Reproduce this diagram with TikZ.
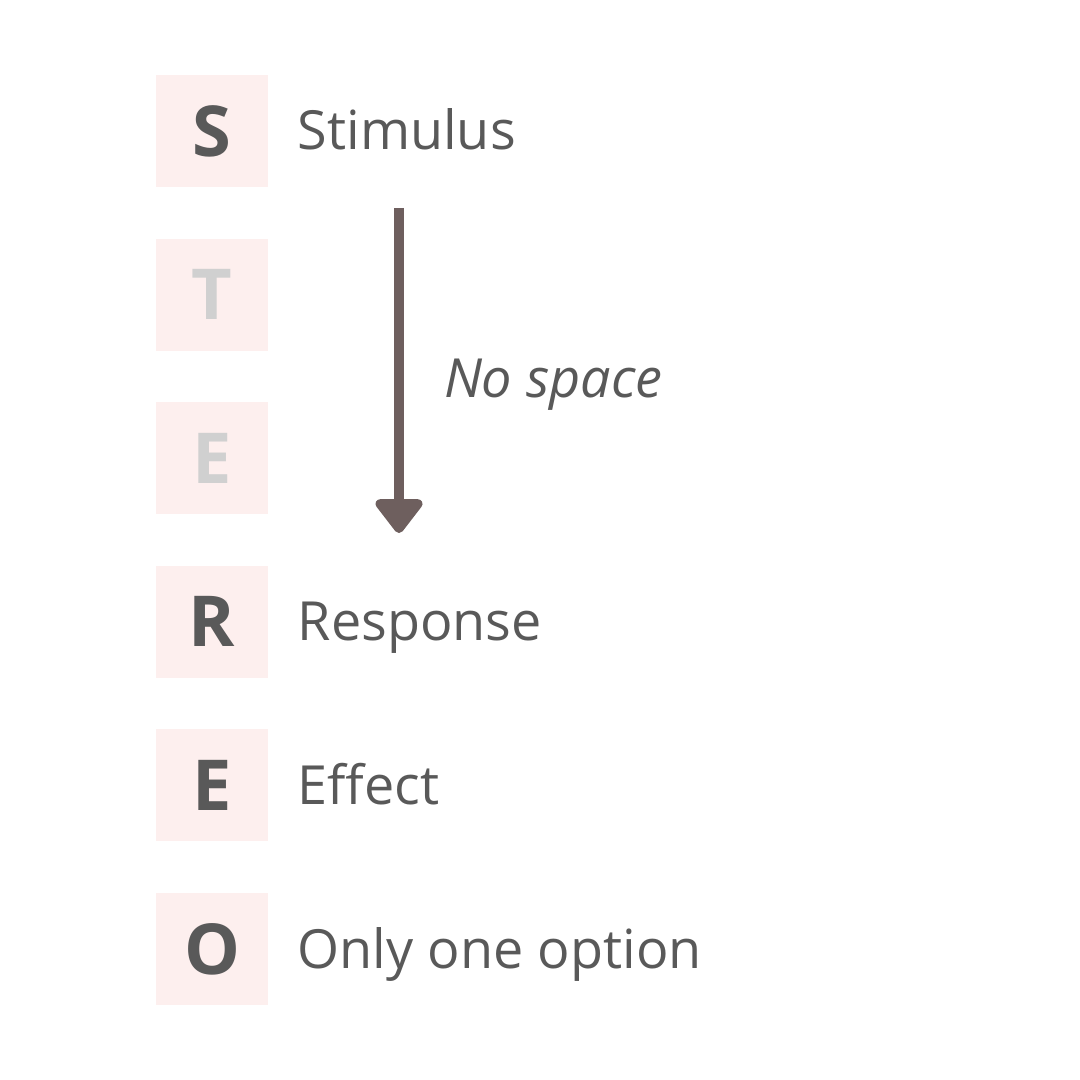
\documentclass[tikz,border=0pt]{standalone}
\usepackage{fontspec}
\setmainfont{Open Sans}
\usetikzlibrary{positioning,arrows.meta}
\definecolor{boxpink}{HTML}{FDEFEE}
\definecolor{inkgray}{HTML}{595959}
\definecolor{fadegray}{HTML}{D0D0D0}
\definecolor{arrowbrown}{HTML}{6E5F5E}

\begin{document}
\begin{tikzpicture}[node distance={5.16mm},
  letter/.style = {fill=boxpink, minimum size=11.2mm, inner sep=0pt, outer sep=0pt, text=inkgray, font=\bfseries\fontsize{20}{24}\selectfont},
  faded/.style = {letter, text=fadegray},
  word/.style = {anchor=base west, inner sep=0pt, text=inkgray, font=\fontsize{15.35}{18}\selectfont},
  note/.style = {midway, anchor=base west, inner sep=0pt, xshift=4.0mm, yshift=-2.75mm, text=inkgray, font=\itshape\fontsize{15.35}{18}\selectfont},
  flow/.style = {draw=arrowbrown, line width=1mm, -{Triangle[width=5.4mm, length=3.7mm, round]}}]
  \useasboundingbox (0,0) rectangle (10.8,-10.8);

  % the STEREO column
  \node[letter] (s) at (2.12,-1.31) {S};
  \node[faded] (t) [below=of s] {T};
  \node[faded] (e1) [below=of t] {E};
  \node[letter] (r) [below=of e1] {R};
  \node[letter] (e2) [below=of r] {E};
  \node[letter] (o) [below=of e2] {O};

  % what each letter stands for
  \node[word] (stimulus) at ([xshift=2.9mm, yshift=-1.9mm]s.east) {Stimulus};
  \node[word] (response) at ([xshift=2.9mm, yshift=-1.9mm]r.east) {Response};
  \node[word] (effect) at ([xshift=2.9mm, yshift=-1.9mm]e2.east) {Effect};
  \node[word] (option) at ([xshift=2.9mm, yshift=-1.9mm]o.east) {Only one option};

  \coordinate (top) at (3.99,-2.08);
  \coordinate (tip) at (3.99,-5.33);
  \draw[flow] (top) -- node[note] (nospace) {No space} (tip);

\end{tikzpicture}
\end{document}
